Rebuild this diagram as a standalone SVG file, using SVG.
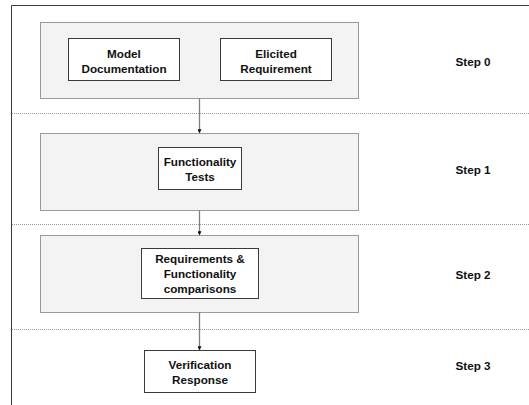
<svg xmlns="http://www.w3.org/2000/svg" width="529" height="405" viewBox="0 0 529 405">
<style>
.frame{fill:none;stroke:#3a3a3a;stroke-width:1}
.sep{fill:none;stroke:#9a9a9a;stroke-width:1;stroke-dasharray:1 1}
.stage{fill:#f3f3f3;stroke:#9a9a9a;stroke-width:1}
.box{fill:#ffffff;stroke:#3a3a3a;stroke-width:1}
.conn{fill:none;stroke:#7f7f7f;stroke-width:1.3}
text{font-family:"Liberation Sans",Arial,sans-serif;font-weight:bold;font-size:11.7px;fill:#111;text-anchor:middle}
</style>
<defs>
<marker id="arr" viewBox="0 0 4 4" refX="3.8" refY="2" markerWidth="4" markerHeight="4" markerUnits="userSpaceOnUse" orient="auto">
<path d="M0,0 L4,2 L0,4 Z" fill="#111"/>
</marker>
</defs>
<g id="frame">
<path class="frame" d="M11.5,405 V5.5 H529"/>
<line class="sep" x1="12" y1="113.5" x2="529" y2="113.5"/>
<line class="sep" x1="12" y1="224.5" x2="529" y2="224.5"/>
<line class="sep" x1="12" y1="329.5" x2="529" y2="329.5"/>
</g>
<g id="stage0"><rect class="stage" x="40.5" y="22.5" width="318" height="76"/></g>
<g id="stage1"><rect class="stage" x="40.5" y="133.5" width="318" height="77"/></g>
<g id="stage2"><rect class="stage" x="40.5" y="235.5" width="318" height="77"/></g>
<g id="connectors">
<line class="conn" x1="199.5" y1="98.5" x2="199.5" y2="133" marker-end="url(#arr)"/>
<line class="conn" x1="199.5" y1="210.5" x2="199.5" y2="235" marker-end="url(#arr)"/>
<line class="conn" x1="199.5" y1="312.5" x2="199.5" y2="350" marker-end="url(#arr)"/>
</g>
<g id="model-doc"><rect class="box" x="68.5" y="38.5" width="111" height="42"/><text x="124" y="57.5">Model</text><text x="124" y="72.5">Documentation</text></g>
<g id="elicited"><rect class="box" x="220.5" y="38.5" width="111" height="42"/><text x="276" y="57.5">Elicited</text><text x="276" y="72.5">Requirement</text></g>
<g id="func-tests"><rect class="box" x="158.5" y="147.5" width="83" height="42"/><text x="200" y="166">Functionality</text><text x="200" y="181">Tests</text></g>
<g id="req-func"><rect class="box" x="141.5" y="248.5" width="117" height="50"/><text x="200" y="263">Requirements &amp;</text><text x="200" y="278">Functionality</text><text x="200" y="293">comparisons</text></g>
<g id="verif"><rect class="box" x="144.5" y="350.5" width="111" height="42"/><text x="200" y="369">Verification</text><text x="200" y="384">Response</text></g>
<g id="steps">
<text x="473" y="66">Step 0</text>
<text x="473" y="174">Step 1</text>
<text x="473" y="279">Step 2</text>
<text x="473" y="370">Step 3</text>
</g>
</svg>
